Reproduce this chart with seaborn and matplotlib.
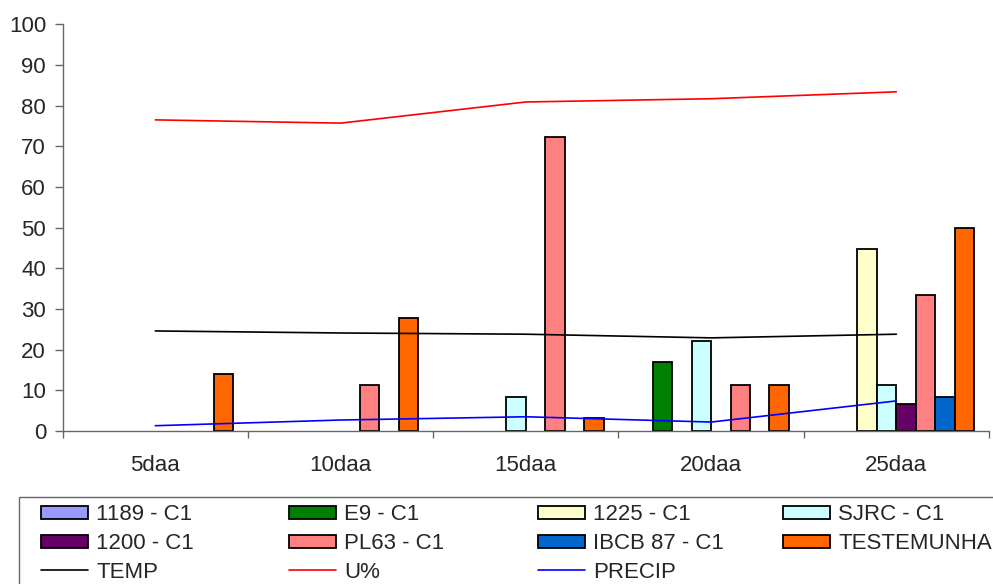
import numpy as np
import pandas as pd
import seaborn as sns
import matplotlib.pyplot as plt
from matplotlib.patches import Patch, Rectangle
from matplotlib.lines import Line2D

# Data
categories = ["5daa", "10daa", "15daa", "20daa", "25daa"]
series = ["1189 - C1", "E9 - C1", "1225 - C1", "SJRC - C1",
          "1200 - C1", "PL63 - C1", "IBCB 87 - C1", "TESTEMUNHA"]
colors = ["#9999FF", "#008000", "#FFFFCC", "#CCFFFF",
          "#660066", "#FF8080", "#0066CC", "#FF6600"]

v_1189 = [0, 0, 0, 0, 0]
v_e9 = [0, 0, 0, 17.0, 0]
v_1225 = [0, 0, 0, 0, 44.7]
v_sjrc = [0, 0, 8.3, 22.2, 11.2]
v_1200 = [0, 0, 0, 0, 6.6]
v_pl63 = [0, 11.2, 72.3, 11.2, 33.4]
v_ibcb = [0, 0, 0, 0, 8.3]
v_test = [13.9, 27.8, 3.1, 11.2, 49.8]

temp = [24.6, 24.1, 23.8, 22.9, 23.8]
umid = [76.5, 75.7, 80.9, 81.7, 83.4]
precip = [1.3, 2.7, 3.5, 2.2, 7.4]

# long table for seaborn
values = [v_1189, v_e9, v_1225, v_sjrc, v_1200, v_pl63, v_ibcb, v_test]
rows = []
for name, vals in zip(series, values):
    for cat, v in zip(categories, vals):
        rows.append({"periodo": cat, "serie": name, "valor": v})
df = pd.DataFrame(rows)

sns.set_style("white")
plt.rcParams["font.family"] = ["Liberation Sans", "DejaVu Sans"]

fig = plt.figure(figsize=(9.93, 5.84), dpi=100)
ax = fig.add_axes([62.7 / 993, 1 - 431 / 584, (989 - 62.7) / 993, (431 - 24.3) / 584])

sns.barplot(data=df, x="periodo", y="valor", hue="serie", order=categories,
            hue_order=series, palette=dict(zip(series, colors)), saturation=1,
            width=0.84, edgecolor="black", linewidth=1.3, errorbar=None,
            legend=False, ax=ax)
# zero values are not drawn in the original
for p in ax.patches:
    if p.get_height() == 0:
        p.set_visible(False)

xpos = np.arange(len(categories))
sns.lineplot(x=xpos, y=temp, color="black", lw=1.2, ax=ax)
sns.lineplot(x=xpos, y=umid, color="#FF0000", lw=1.2, ax=ax)
sns.lineplot(x=xpos, y=precip, color="#0000FF", lw=1.2, ax=ax)

ax.set_xlim(-0.5, 4.5)
ax.set_ylim(0, 100)
ax.set_yticks(range(0, 101, 10))
ax.set_xticks(np.arange(-0.5, 5, 1), [""] * 6)
ax.set_xticks(xpos, categories, minor=True)
ax.set_xlabel("")
ax.set_ylabel("")
sns.despine(ax=ax)
for sp in ["left", "bottom"]:
    ax.spines[sp].set_color("#666666")
    ax.spines[sp].set_linewidth(1.0)
ax.tick_params(axis="y", direction="out", length=5.5, width=1, color="#666666",
               pad=6.5, labelsize=16, left=True)
ax.tick_params(axis="x", which="major", direction="out", length=5, width=1,
               color="#666666", bottom=True)
ax.tick_params(axis="x", which="minor", length=0, pad=17, labelsize=16)

# legend: one column at a time so the columns sit where they do in the original
bar_handles = [Patch(facecolor=c, edgecolor="black", lw=1.3) for c in colors]
line_handles = [Line2D([], [], color="black", lw=1.2),
                Line2D([], [], color="#FF0000", lw=1.2),
                Line2D([], [], color="#0000FF", lw=1.2)]
line_labels = ["TEMP", "U%", "PRECIP"]
col_x = [41, 289, 538, 783]
for i, x in enumerate(col_x):
    h = [bar_handles[i], bar_handles[i + 4]]
    l = [series[i], series[i + 4]]
    if i < 3:
        h.append(line_handles[i])
        l.append(line_labels[i])
    fig.legend(h, l, loc="upper left", bbox_to_anchor=(x / 993, 1 - 504.5 / 584),
               frameon=False, borderpad=0, borderaxespad=0, fontsize=16,
               handlelength=2.12, handleheight=0.55, handletextpad=0.36,
               labelspacing=0.34)

fig.add_artist(Rectangle((19 / 993, -0.1), 1.0, 0.1 + (1 - 497 / 584),
                         transform=fig.transFigure, fill=False,
                         edgecolor="#666666", lw=1))

fig.savefig("out.png", dpi=100)
